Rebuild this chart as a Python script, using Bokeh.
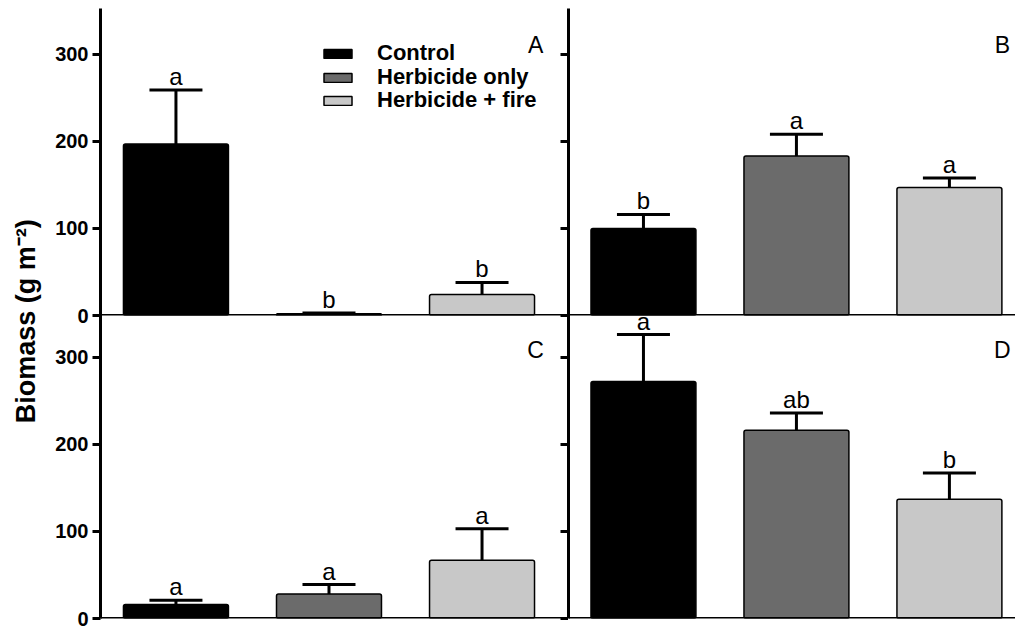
import math
from bokeh.plotting import figure
from bokeh.models import (LinearAxis, FixedTicker, ColumnDataSource, Whisker, TeeHead,
                          Span, Label, Legend, LegendItem)
from bokeh.layouts import row, column
from bokeh.embed import file_html
from bokeh.resources import INLINE
from bokeh.core.properties import value

# ---------------- data ----------------
treatments = ["Control", "Herbicide only", "Herbicide + fire"]
positions = [1, 2, 3]
colors = ["#000000", "#6b6b6b", "#c8c8c8"]

mean_A = [197, 2, 24]
upper_A = [259, 3, 38]
letters_A = ["a", "b", "b"]

mean_B = [100, 183, 147]
upper_B = [116, 208, 158]
letters_B = ["b", "a", "a"]

mean_C = [16, 28, 67]
upper_C = [21, 39, 103]
letters_C = ["a", "a", "a"]

mean_D = [272, 216, 137]
upper_D = [326, 236, 167]
letters_D = ["a", "ab", "b"]

y_ticks = [0, 100, 200, 300]
y_label = "Biomass (g m\u207b\u00b2)"

FONT = "Liberation Sans"
SCALE = 0.871      # px per unit
OVERLAP = 12       # px the lower panels reach up behind the upper ones
LEGEND_Y = [249, 225, 202]   # screen offsets of the three legend rows


def make_panel(name, means, uppers, letters, left, top, legend=False):
    frame_w = 468 if left else 447
    frame_h = 307 if top else 303 + OVERLAP
    y_max = 352.5 if top else frame_h / SCALE
    border_l = 52 if left else 0
    border_t = 8 if top else 0
    border_b = 12 if top else 11
    xr = (0.507, 3.565) if left else (0.51, 3.432)
    p = figure(width=border_l + frame_w, height=border_t + frame_h + border_b,
               x_range=xr, y_range=(0, y_max),
               output_backend="svg", toolbar_location=None,
               x_axis_location=None, y_axis_location=None,
               min_border_left=border_l, min_border_right=0,
               min_border_top=border_t, min_border_bottom=border_b)
    p.center = []
    p.outline_line_color = None
    p.background_fill_alpha = 0
    p.border_fill_alpha = 0
    if top:
        p.margin = (0, 0, -(border_b + OVERLAP), 0)

    src = ColumnDataSource(dict(x=positions, top=means, upper=uppers,
                                letter=letters, color=colors, treatment=treatments))

    bars = p.vbar(x="x", top="top", width=0.686, bottom=0, source=src,
                  fill_color="color", line_color="black", line_width=1.5,
                  border_radius=2)

    w = Whisker(base="x", lower="top", upper="upper", source=src,
                dimension="height", line_width=3, line_color="black",
                lower_head=None,
                upper_head=TeeHead(size=53, line_width=3, line_color="black"))
    p.add_layout(w)

    p.text(x="x", y="upper", text="letter", source=src, y_offset=0,
           text_align="center", text_baseline="bottom",
           text_font=value(FONT), text_font_size="24px", text_color="black")

    # panel letter
    p.add_layout(Label(x=3.35 if left else 3.346, y=296 if top else 293, text=name,
                       text_align="center", text_baseline="bottom",
                       text_font=FONT, text_font_size="23px", text_color="black"))

    # baseline
    p.add_layout(Span(location=0, dimension="width", line_color="black", line_width=3))

    if left:
        ax = LinearAxis(ticker=FixedTicker(ticks=y_ticks))
        ax.axis_line_width = 3
        ax.major_tick_line_width = 3
        ax.major_tick_out = 8
        ax.major_tick_in = 0
        ax.minor_tick_line_color = None
        ax.major_label_standoff = 4
        ax.major_label_text_font = FONT
        ax.major_label_text_font_style = "bold"
        ax.major_label_text_font_size = "20px"
        ax.major_label_text_color = "black"
        p.add_layout(ax, "left")

        rax = LinearAxis(ticker=FixedTicker(ticks=y_ticks))
        rax.axis_line_width = 3
        rax.major_tick_line_width = 3
        rax.major_tick_out = 0
        rax.major_tick_in = 8
        rax.minor_tick_line_color = None
        rax.major_label_standoff = 0
        rax.major_label_overrides = {t: "" for t in y_ticks}
        rax.major_label_text_font_size = "0px"
        p.add_layout(rax, "right")
    else:
        lax = LinearAxis(ticker=FixedTicker(ticks=[]))
        lax.axis_line_width = 3
        lax.major_tick_out = 0
        lax.major_tick_in = 0
        lax.major_tick_line_color = None
        lax.minor_tick_line_color = None
        lax.major_label_standoff = 0
        lax.major_label_text_font_size = "0px"
        p.add_layout(lax, "left")

    if legend:
        for i, t in enumerate(treatments):
            lg = Legend(items=[LegendItem(label=value(t), renderers=[bars], index=i)],
                        location=(220, LEGEND_Y[i]))
            lg.border_line_color = None
            lg.background_fill_alpha = 0
            lg.padding = 0
            lg.margin = 0
            lg.spacing = 0
            lg.glyph_width = 35
            lg.glyph_height = 11
            lg.label_height = 20
            lg.label_standoff = 22
            lg.label_text_font = FONT
            lg.label_text_font_style = "bold"
            lg.label_text_font_size = "22px"
            lg.label_text_color = "black"
            p.add_layout(lg)
    return p


pA = make_panel("A", mean_A, upper_A, letters_A, left=True, top=True, legend=True)
pB = make_panel("B", mean_B, upper_B, letters_B, left=False, top=True)
pC = make_panel("C", mean_C, upper_C, letters_C, left=True, top=False)
pD = make_panel("D", mean_D, upper_D, letters_D, left=False, top=False)

lab = figure(width=48, height=629, x_range=(0, 1), y_range=(0, 1),
             output_backend="svg", toolbar_location=None,
             x_axis_location=None, y_axis_location=None,
             min_border_left=0, min_border_right=0, min_border_top=0, min_border_bottom=0)
lab.center = []
lab.outline_line_color = None
lab.text(x=[0.53], y=[0.49], text=[y_label], angle=math.pi / 2,
         text_align="center", text_baseline="middle",
         text_font=value(FONT), text_font_style="bold", text_font_size="27px",
         text_color="black")

layout = row(lab, column(pA, pC), column(pB, pD))

open("out.html", "w").write(file_html(layout, INLINE))
